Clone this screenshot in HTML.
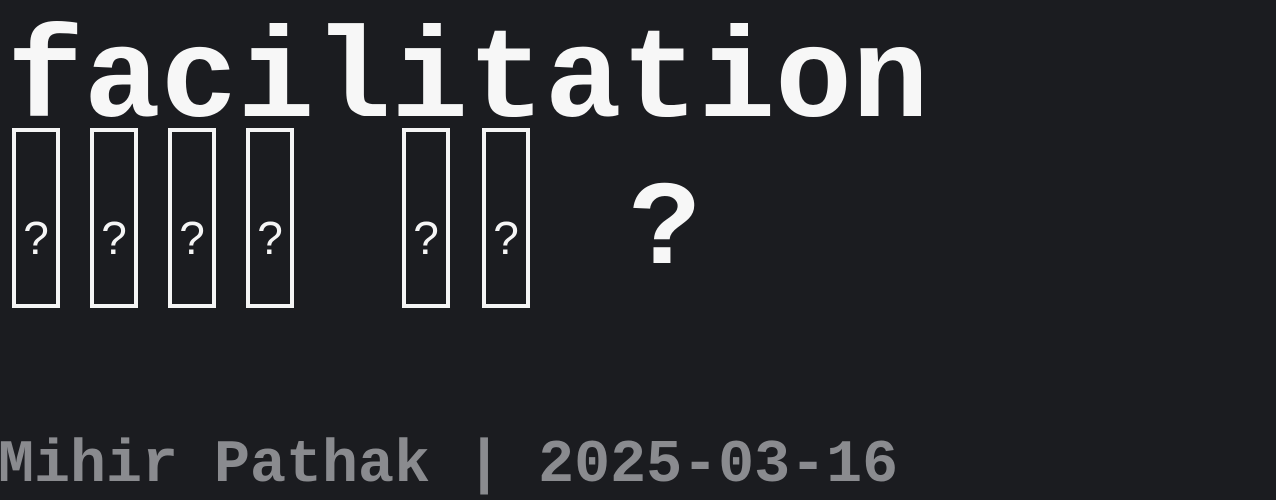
<!DOCTYPE html>
<html><head><meta charset="utf-8"><style>
html,body{margin:0;padding:0;}
body{width:1276px;height:498px;background:#1b1c20;position:relative;overflow:hidden;font-family:"Liberation Mono",monospace;}
.t{position:absolute;white-space:pre;font-weight:bold;}
.box{position:absolute;top:128px;width:40px;height:172px;border:4px solid #f5f5f5;color:#f5f5f5;font-family:"Liberation Sans",sans-serif;font-size:46px;text-align:center;line-height:212px;}
</style></head><body>
<div class="t" style="left:7px;top:19px;font-size:128px;line-height:128px;color:#f7f7f7;">facilitation</div>
<div class="box" style="left:12px;">?</div>
<div class="box" style="left:90px;">?</div>
<div class="box" style="left:168px;">?</div>
<div class="box" style="left:246px;">?</div>
<div class="box" style="left:402px;">?</div>
<div class="box" style="left:482px;">?</div>
<div class="t" style="left:629px;top:172px;font-size:120px;line-height:120px;color:#f7f7f7;">?</div>
<div class="t" style="left:-2px;top:436px;font-size:60px;line-height:60px;color:#8a8b8f;">Mihir Pathak | 2025-03-16</div>
</body></html>
